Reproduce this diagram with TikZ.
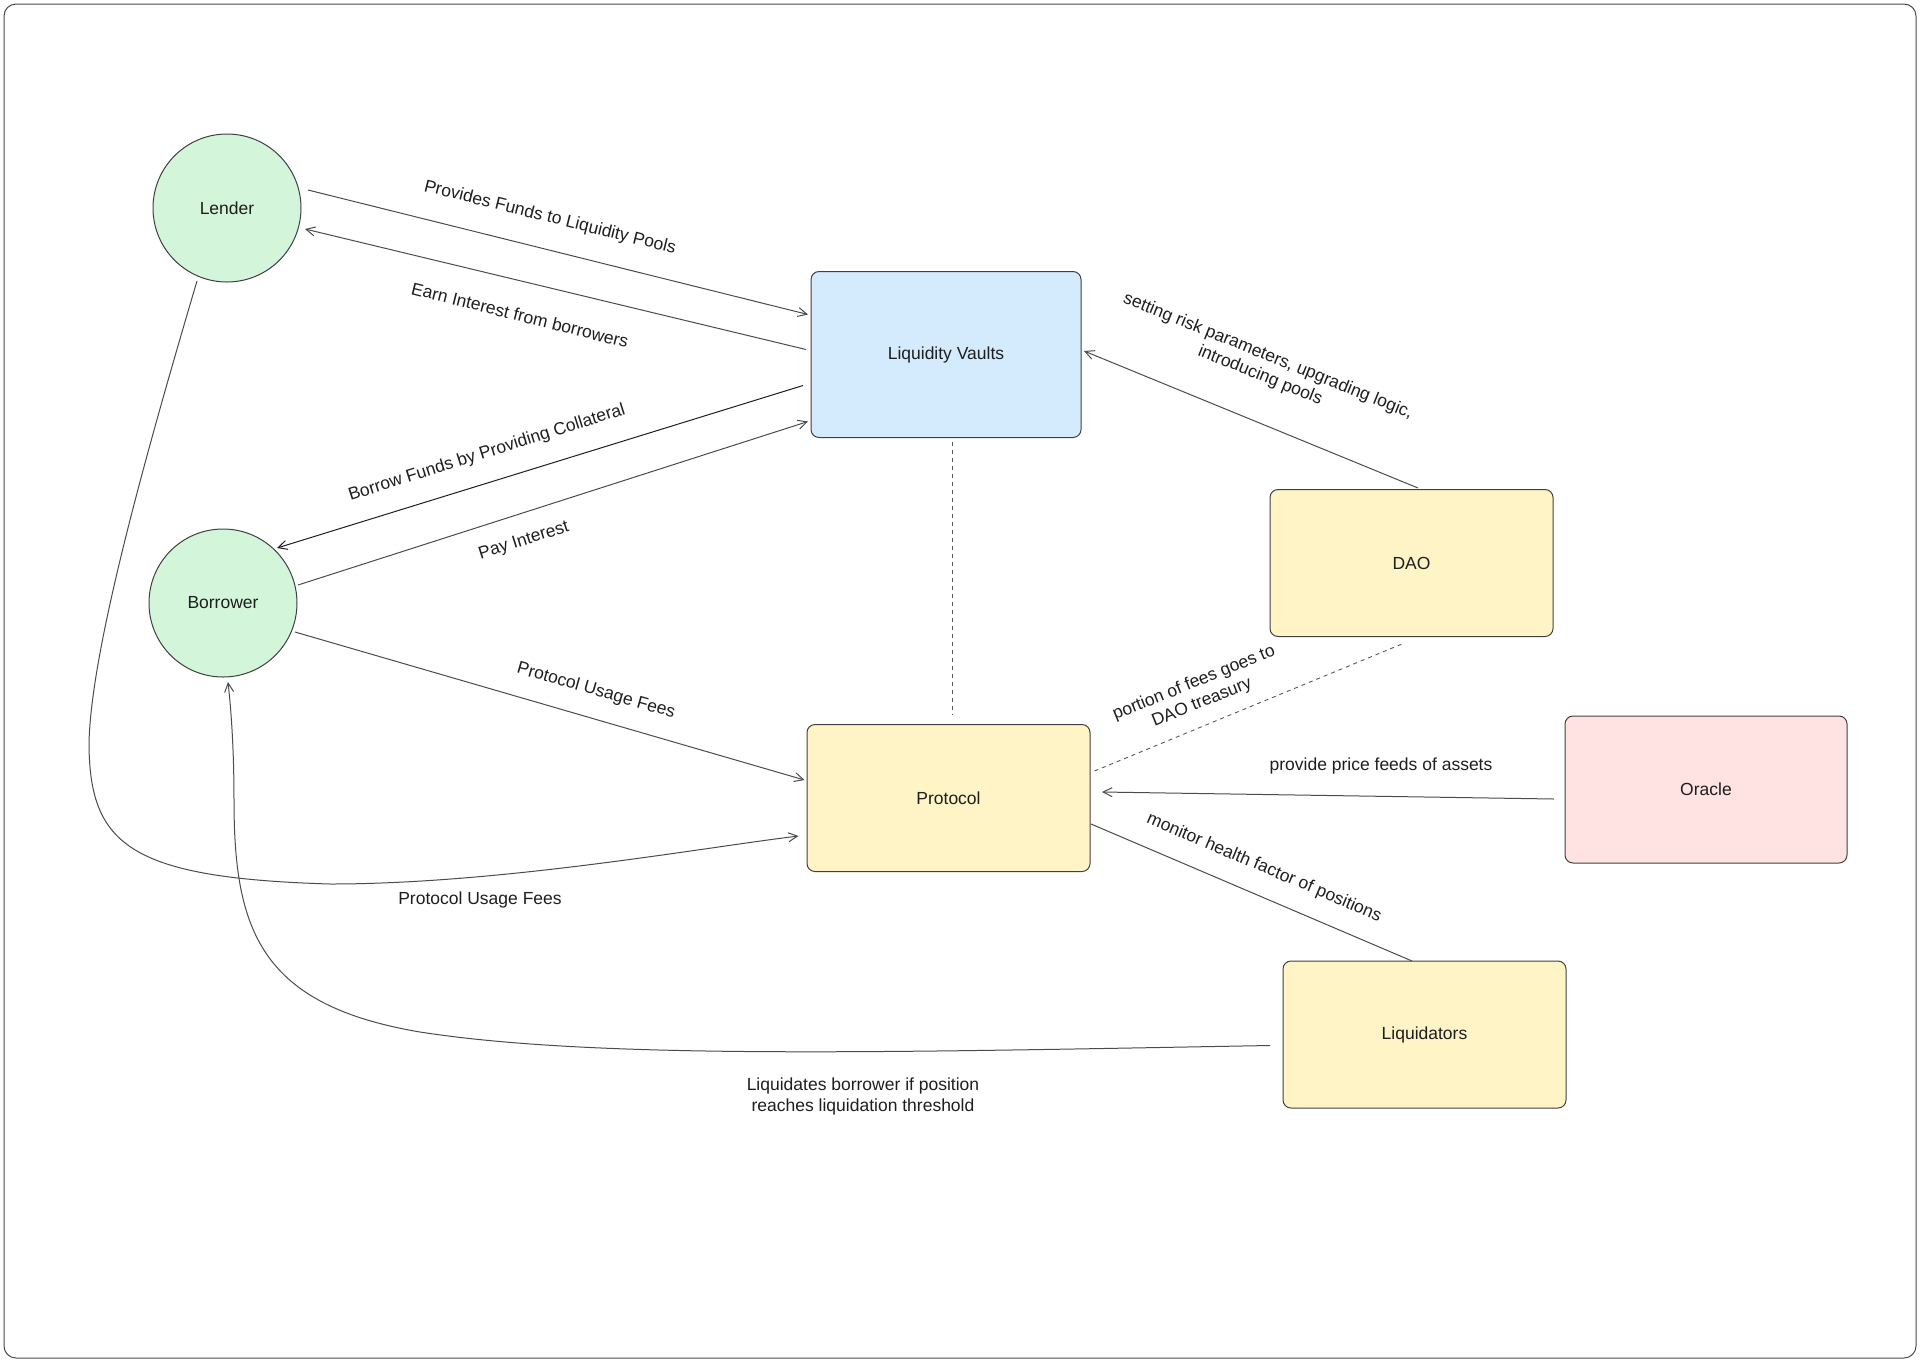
\documentclass[tikz,border=0pt]{standalone}
\usepackage{fontspec}
\setmainfont{Liberation Sans}
\usetikzlibrary{arrows.meta,calc}
\definecolor{ink}{HTML}{1E1E1E}
\definecolor{greenfill}{HTML}{D3F5DA}
\definecolor{bluefill}{HTML}{D4EBFD}
\definecolor{yellowfill}{HTML}{FFF4C6}
\definecolor{pinkfill}{HTML}{FFE3E3}
\begin{document}
\begin{tikzpicture}[x=1pt,y=-1pt,
  every node/.style={font=\fontsize{17.5}{21}\selectfont, text=ink},
  actor/.style={circle, draw=ink!85, line width=1pt, fill=greenfill, minimum size=148pt, inner sep=0pt},
  boxbase/.style={rectangle, rounded corners=8pt, draw=ink!85, line width=1pt, inner sep=0pt},
  vaultbox/.style={boxbase, fill=bluefill, minimum width=270pt, minimum height=166pt},
  sysbox/.style={boxbase, fill=yellowfill, minimum width=283pt, minimum height=147pt},
  oraclebox/.style={boxbase, fill=pinkfill, minimum width=282pt, minimum height=147pt},
  flow/.style={draw=ink!80, line width=1pt, -{Straight Barb[length=9pt,width=9pt]}},
  link/.style={draw=ink!80, line width=1pt},
  dashlink/.style={draw=ink!75, line width=0.9pt, dash pattern=on 4pt off 4pt},
  lbl/.style={inner sep=1pt, align=center}
]
\useasboundingbox (0,0) rectangle (1920,1361);
\draw[rounded corners=12pt, draw=ink!80, line width=1pt] (4,4) rectangle (1916,1358);

% nodes
\node[actor] (lender) at (227,208) {Lender};
\node[actor] (borrower) at (223,603) {Borrower};
\node[vaultbox] (vaults) at (946,354.5) {Liquidity Vaults};
\node[sysbox] (dao) at (1411.5,563) {DAO};
\node[sysbox] (protocol) at (948.5,798) {Protocol};
\node[oraclebox] (oracle) at (1706,789.5) {Oracle};
\node[sysbox] (liquidators) at (1424.5,1034.5) {Liquidators};

% connectors
\draw[flow] ($(lender.center)+(81,-18)$) -- ($(vaults.center)+(-138,-40)$);
\draw[flow] ($(vaults.center)+(-140,-5)$) -- ($(lender.center)+(78,21)$);
\draw[flow, draw=ink] ($(vaults.center)+(-143,31)$) -- ($(borrower.center)+(54,-55)$);
\draw[flow] ($(borrower.center)+(75,-18)$) -- ($(vaults.center)+(-138,67)$);
\draw[flow] ($(borrower.center)+(72,29)$) -- ($(protocol.center)+(-144,-18)$);
\draw[flow] ($(lender.center)+(-30,73)$) .. controls (150,440) and (90,650) .. (89,745)
  .. controls (90,845) and (130,878) .. (330,884)
  .. controls (500,884) and (700,848) .. ($(protocol.center)+(-150,38)$);
\draw[flow] ($(liquidators.center)+(-154.5,11)$) .. controls (900,1052) and (600,1060) .. (420,1032)
  .. controls (260,1005) and (234,930) .. (234,800)
  .. controls (234,740) and (230,700) .. ($(borrower.center)+(5,79)$);
\draw[flow] ($(dao.center)+(6.5,-75)$) -- ($(vaults.center)+(138,-3.5)$);
\draw[dashlink] ($(vaults.center)+(6,87)$) -- ($(protocol.center)+(3.5,-84)$);
\draw[dashlink] ($(protocol.center)+(146,-27)$) -- ($(dao.center)+(-9.5,81)$);
\draw[flow] ($(oracle.center)+(-152,9.5)$) -- ($(protocol.center)+(153.5,-6)$);
\draw[link] ($(protocol.center)+(142.5,26)$) -- ($(liquidators.center)+(-12.5,-73.5)$);

% labels
\node[lbl, rotate=-14] (l1) at (550,218) {Provides Funds to Liquidity Pools};
\node[lbl, rotate=-14] (l2) at (520,315) {Earn Interest from borrowers};
\node[lbl, rotate=17.5] (l3) at (487,453) {Borrow Funds by Providing Collateral};
\node[lbl, rotate=17.5] (l4) at (524,541) {Pay Interest};
\node[lbl, rotate=-16] (l5) at (596,691) {Protocol Usage Fees};
\node[lbl] (l6) at (480,900) {Protocol Usage Fees};
\node[lbl] (l7) at (863,1096) {Liquidates borrower if position\\reaches liquidation threshold};
\node[lbl, rotate=-22] (l8) at (1264,366) {setting risk parameters, upgrading logic,\\introducing pools};
\node[lbl, rotate=22] (l9) at (1198,693) {portion of fees goes to\\DAO treasury};
\node[lbl] (l10) at (1381,766) {provide price feeds of assets};
\node[lbl, rotate=-23] (l11) at (1264,868) {monitor health factor of positions};
\end{tikzpicture}
\end{document}
